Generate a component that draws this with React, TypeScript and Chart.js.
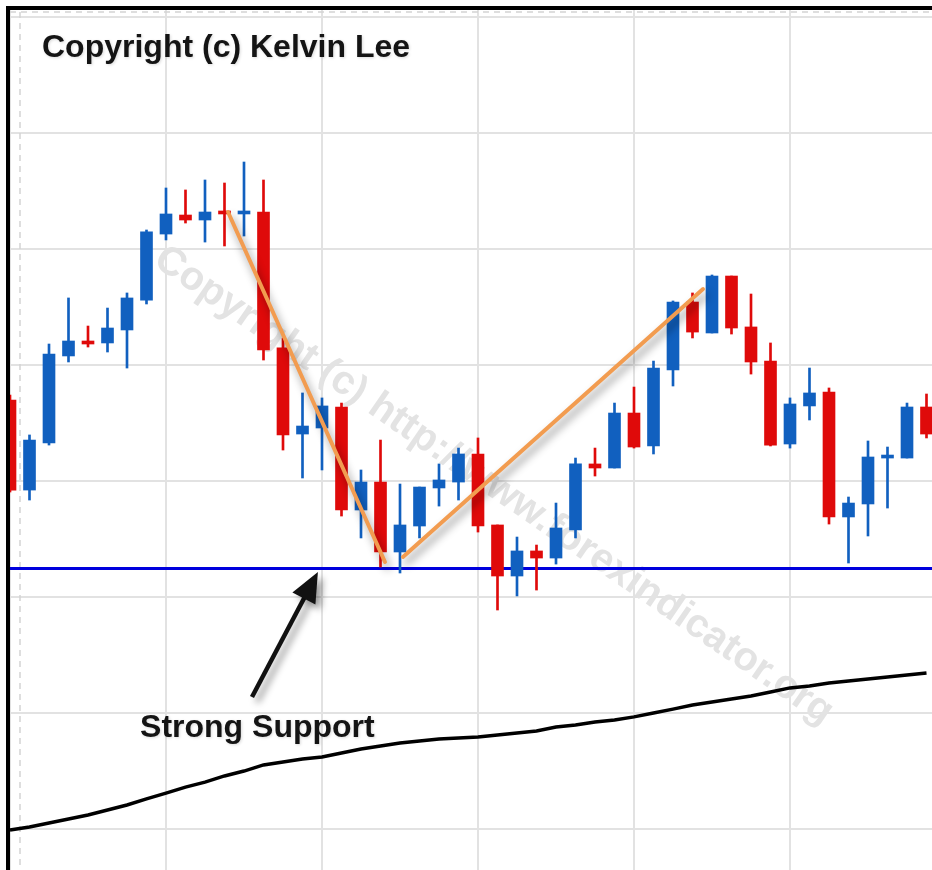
import React, { useEffect, useRef } from "react";
import { Chart, registerables } from "chart.js";

Chart.register(...registerables);

// ---- Data (price units; one grid step = 10) ----
const opens = [136.98, 129.22, 133.28, 140.78, 142.07, 141.9, 143.02, 145.6, 151.29, 152.93, 152.5, 153.19, 153.02, 153.19, 141.47, 134.05, 134.57, 136.38, 127.5, 129.91, 123.88, 126.12, 129.4, 129.91, 132.33, 126.21, 121.81, 123.97, 123.36, 125.78, 131.47, 131.12, 135.86, 133.02, 139.57, 145.43, 142.76, 147.67, 143.28, 140.34, 133.19, 136.47, 137.67, 126.9, 128.02, 131.98, 131.98, 136.38];
const highs = [137.41, 133.97, 141.81, 145.78, 143.36, 144.91, 146.21, 151.64, 155.26, 155.09, 155.95, 155.69, 157.5, 155.95, 142.33, 137.59, 137.16, 136.72, 130.95, 133.53, 129.74, 129.48, 131.47, 132.84, 133.71, 126.21, 125.17, 124.48, 128.1, 131.98, 132.84, 136.72, 138.1, 140.34, 145.52, 146.21, 147.76, 147.67, 146.12, 141.9, 137.16, 139.74, 138.02, 128.62, 133.45, 132.93, 136.72, 137.5];
const lows = [129.05, 128.36, 133.1, 140.26, 141.55, 141.12, 139.74, 145.26, 150.78, 152.24, 150.6, 150.26, 151.12, 140.43, 132.67, 130.26, 130.95, 126.98, 125.09, 122.59, 122.07, 125.09, 127.84, 128.36, 125.6, 118.88, 120.09, 120.6, 122.84, 125.09, 130.43, 131.12, 132.84, 132.33, 138.19, 142.33, 142.76, 142.67, 139.22, 133.02, 132.84, 135.26, 126.29, 122.93, 125.26, 127.67, 131.98, 133.71];
const closes = [129.22, 133.53, 140.95, 142.07, 141.81, 143.19, 145.78, 151.47, 153.02, 152.5, 153.19, 153.02, 153.19, 141.29, 133.97, 134.74, 136.47, 127.5, 129.91, 123.88, 126.21, 129.48, 130.09, 132.33, 126.12, 121.81, 123.97, 123.36, 125.95, 131.47, 131.12, 135.86, 132.93, 139.74, 145.43, 142.84, 147.67, 143.19, 140.26, 133.1, 136.64, 137.59, 126.9, 128.1, 132.07, 132.16, 136.38, 134.05];
const movingAverage = [99.91, 100.17, 100.52, 100.86, 101.21, 101.64, 102.07, 102.59, 103.1, 103.62, 104.05, 104.57, 105.0, 105.52, 105.78, 106.03, 106.21, 106.55, 106.9, 107.16, 107.41, 107.59, 107.76, 107.84, 107.93, 108.1, 108.28, 108.45, 108.79, 108.97, 109.22, 109.4, 109.66, 110.0, 110.34, 110.69, 110.95, 111.21, 111.47, 111.81, 112.16, 112.33, 112.59, 112.76, 112.93, 113.1, 113.28, 113.45];

const supportLevel = 122.46;
const supportRange = [0, 47.3];

const gridCandles = [0, 8, 16, 24, 32, 40];
const gridPrices = [100, 110, 120, 130, 140, 150, 160, 170];

const xRange = [-0.5128, 47.282];
const yRange = [96.466, 171.466];

// trend lines (candle index, price)
const trendDownX = [11.18, 19.23];
const trendDownY = [153.19, 123.02];
const trendUpX = [20.15, 35.54];
const trendUpY = [123.45, 146.55];

// arrow (tail -> tip) and its label
const arrowX = [12.41, 15.79];
const arrowY = [111.38, 122.16];
const labelX = 6.67;
const labelY = 107.93;
const labelText = "Strong Support";

const titleText = "Copyright (c) Kelvin Lee";
const watermarkText = "Copyright (c) http://www.forexindicator.org";
const watermarkX = 24.8;
const watermarkY = 129.6;

const BLUE = "#1160bf";
const RED = "#df0a0a";
const FONT = '"Liberation Sans", Arial, sans-serif';

const overlayPlugin = {
  id: "overlay",
  beforeDatasetsDraw(chart: any) {
    const { ctx, chartArea } = chart;
    const x = chart.scales.x;
    const y = chart.scales.y;
    ctx.save();
    ctx.strokeStyle = "#d4d4d4";
    ctx.lineWidth = 1.5;
    ctx.setLineDash([6, 5]);
    ctx.beginPath();
    ctx.moveTo(20, 12);
    ctx.lineTo(20, chartArea.bottom);
    ctx.moveTo(10, 12);
    ctx.lineTo(chartArea.right, 12);
    ctx.stroke();
    ctx.setLineDash([]);

    ctx.translate(x.getPixelForValue(watermarkX), y.getPixelForValue(watermarkY));
    ctx.rotate((34.5 * Math.PI) / 180);
    ctx.font = `bold 40px ${FONT}`;
    ctx.textAlign = "center";
    ctx.textBaseline = "middle";
    ctx.fillStyle = "#e3e3e3";
    ctx.fillText(watermarkText, 0, 0);
    ctx.restore();
  },
  afterDatasetsDraw(chart: any) {
    const { ctx, chartArea } = chart;
    const x = chart.scales.x;
    const y = chart.scales.y;
    ctx.save();
    // orange trend lines with shadow
    ctx.shadowColor = "rgba(0,0,0,0.45)";
    ctx.shadowBlur = 8;
    ctx.shadowOffsetX = 3;
    ctx.shadowOffsetY = 6;
    ctx.strokeStyle = "#f29c50";
    ctx.lineWidth = 4;
    ctx.lineCap = "round";
    [[trendDownX, trendDownY], [trendUpX, trendUpY]].forEach(([xs, ys]) => {
      ctx.beginPath();
      ctx.moveTo(x.getPixelForValue(xs[0]), y.getPixelForValue(ys[0]));
      ctx.lineTo(x.getPixelForValue(xs[1]), y.getPixelForValue(ys[1]));
      ctx.stroke();
    });

    // arrow
    const tx = x.getPixelForValue(arrowX[0]);
    const ty = y.getPixelForValue(arrowY[0]);
    const hx = x.getPixelForValue(arrowX[1]);
    const hy = y.getPixelForValue(arrowY[1]);
    const len = Math.hypot(hx - tx, hy - ty);
    const ux = (hx - tx) / len;
    const uy = (hy - ty) / len;
    const headLen = 30;
    const headHalf = 13;
    const bx = hx - ux * headLen;
    const by = hy - uy * headLen;
    ctx.shadowColor = "rgba(0,0,0,0.4)";
    ctx.shadowBlur = 7;
    ctx.shadowOffsetX = 5;
    ctx.shadowOffsetY = 5;
    ctx.strokeStyle = "#111";
    ctx.fillStyle = "#111";
    ctx.lineWidth = 4.5;
    ctx.lineCap = "butt";
    ctx.beginPath();
    ctx.moveTo(tx, ty);
    ctx.lineTo(bx + ux * 4, by + uy * 4);
    ctx.stroke();
    ctx.beginPath();
    ctx.moveTo(hx, hy);
    ctx.lineTo(bx - uy * headHalf, by + ux * headHalf);
    ctx.lineTo(bx + uy * headHalf, by - ux * headHalf);
    ctx.closePath();
    ctx.fill();

    // texts
    ctx.shadowColor = "rgba(0,0,0,0.15)";
    ctx.shadowBlur = 3;
    ctx.shadowOffsetX = 1;
    ctx.shadowOffsetY = 1;
    ctx.font = `bold 32px ${FONT}`;
    ctx.fillStyle = "#141414";
    ctx.textAlign = "left";
    ctx.textBaseline = "alphabetic";
    ctx.fillText(labelText, x.getPixelForValue(labelX), y.getPixelForValue(labelY));
    ctx.fillText(titleText, chartArea.left + 42, chartArea.top + 57);
    ctx.restore();
  },
  afterDraw(chart: any) {
    const { ctx, width, height } = chart;
    ctx.save();
    ctx.fillStyle = "#ffffff";
    ctx.fillRect(0, 0, 6, height);
    ctx.fillRect(0, 0, width, 6);
    ctx.fillStyle = "#000000";
    ctx.fillRect(6, 6, 4, height - 6);
    ctx.fillRect(6, 6, width - 6, 4);
    ctx.restore();
  },
};

export default function App() {
  const canvasRef = useRef<HTMLCanvasElement | null>(null);

  useEffect(() => {
    document.body.style.margin = "0";
    const canvas = canvasRef.current;
    if (!canvas) return;
    const idx = opens.map((_, i) => i);
    const colors = idx.map((i) => (closes[i] >= opens[i] ? BLUE : RED));

    const chart = new Chart(canvas, {
      type: "bar",
      data: {
        datasets: [
          {
            type: "line",
            data: movingAverage.map((v, i) => ({ x: i, y: v })),
            borderColor: "#000000",
            borderWidth: 3.4,
            pointRadius: 0,
            tension: 0,
            order: 6,
          } as any,
          {
            type: "line",
            data: supportRange.map((v) => ({ x: v, y: supportLevel })),
            borderColor: "#0000dd",
            borderWidth: 3,
            pointRadius: 0,
            order: 5,
          } as any,
          {
            type: "bar",
            data: idx.map((i) => ({ x: i, y: [lows[i], highs[i]] })),
            backgroundColor: colors,
            barThickness: 2,
            grouped: false,
            order: 3,
          } as any,
          {
            type: "bar",
            data: idx.map((i) => ({ x: i, y: [opens[i], closes[i]] })),
            backgroundColor: colors,
            barThickness: 12,
            minBarLength: 3,
            grouped: false,
            order: 2,
          } as any,
        ],
      },
      options: {
        responsive: false,
        animation: false,
        layout: { padding: 0 },
        plugins: { legend: { display: false }, tooltip: { enabled: false } },
        scales: {
          x: {
            type: "linear",
            min: xRange[0],
            max: xRange[1],
            offset: false,
            bounds: "data",
            afterBuildTicks: (s: any) => {
              s.ticks = gridCandles.map((v) => ({ value: v }));
            },
            ticks: { display: false },
            border: { display: false },
            grid: { offset: false, drawTicks: false, color: "#e2e2e2", lineWidth: 2 },
          },
          y: {
            type: "linear",
            min: yRange[0],
            max: yRange[1],
            beginAtZero: false,
            bounds: "data",
            afterBuildTicks: (s: any) => {
              s.ticks = gridPrices.map((v) => ({ value: v }));
            },
            ticks: { display: false },
            border: { display: false },
            grid: { drawTicks: false, color: "#e2e2e2", lineWidth: 2 },
          },
        },
      } as any,
      plugins: [overlayPlugin],
    });
    return () => chart.destroy();
  }, []);

  return (
    <div style={{ width: 932, height: 870, background: "#fff" }}>
      <canvas ref={canvasRef} width={932} height={870} style={{ display: "block" }} />
    </div>
  );
}
